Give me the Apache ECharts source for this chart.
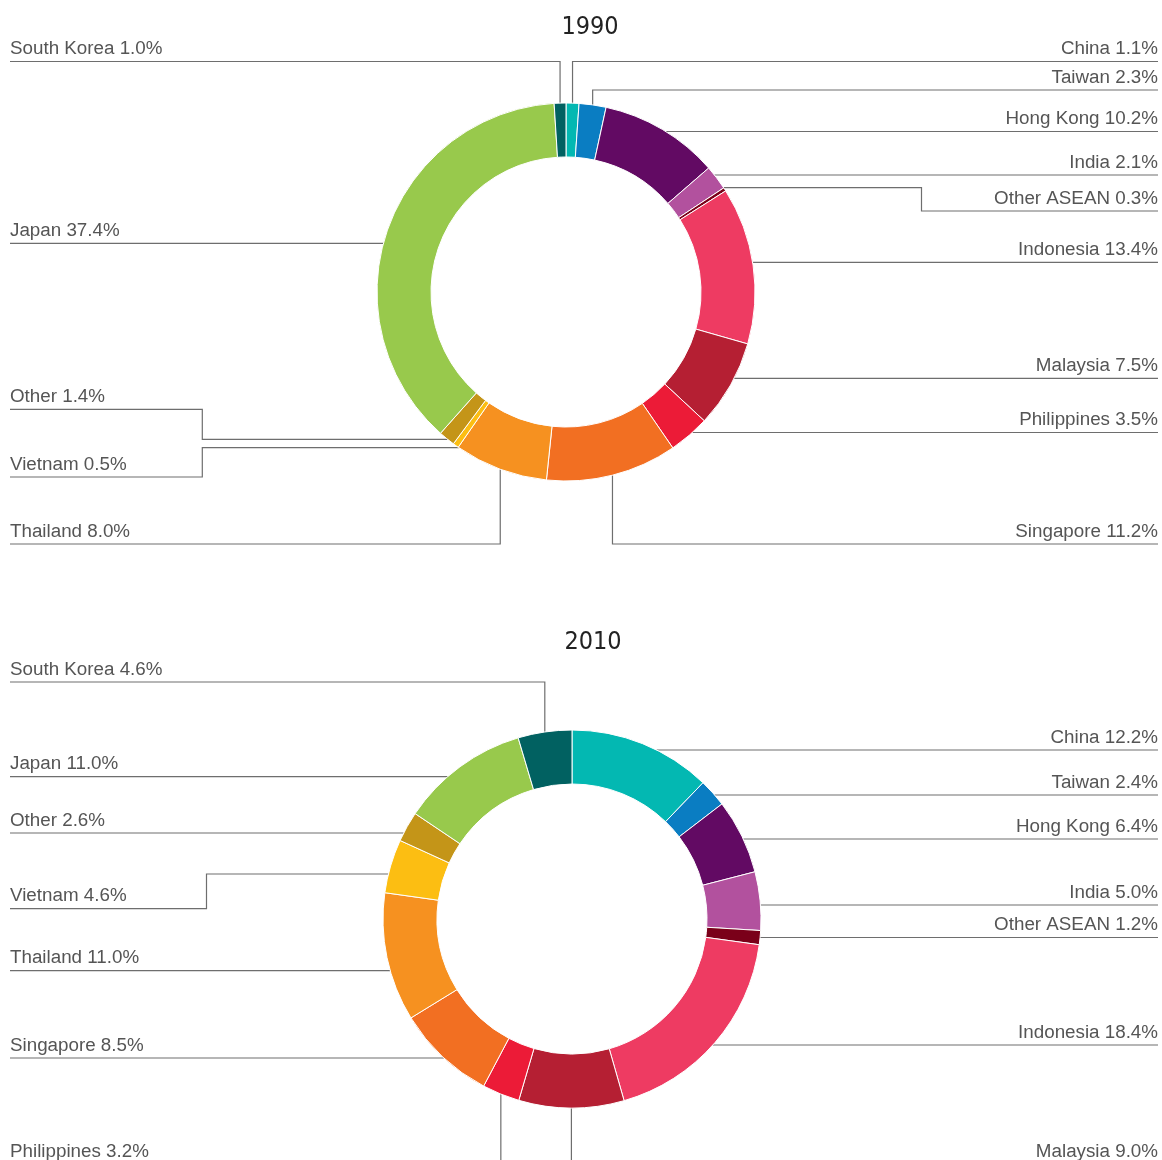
<!DOCTYPE html>
<html>
<head>
<meta charset="utf-8">
<script src="https://cdn.jsdelivr.net/npm/echarts@6/dist/echarts.min.js"></script>
<style>
  html, body { margin: 0; padding: 0; background: #fff; }
  #chart { width: 1162px; height: 1160px; }
</style>
</head>
<body>
<div id="chart"></div>
<script>
// ---- Data ----
const categories = ['China', 'Taiwan', 'Hong Kong', 'India', 'Other ASEAN', 'Indonesia', 'Malaysia',
  'Philippines', 'Singapore', 'Thailand', 'Vietnam', 'Other', 'Japan', 'South Korea'];
const values1990 = [1.1, 2.3, 10.2, 2.1, 0.3, 13.4, 7.5, 3.5, 11.2, 8.0, 0.5, 1.4, 37.4, 1.0];
const values2010 = [12.2, 2.4, 6.4, 5.0, 1.2, 18.4, 9.0, 3.2, 8.5, 11.0, 4.6, 2.6, 11.0, 4.6];
const years = ['1990', '2010'];

// ---- Styles ----
const colors = ['#03b8b2', '#0a7dc2', '#620a63', '#b2519e', '#7a0019', '#ee3b62', '#b51f33',
  '#ec1b37', '#f26f22', '#f69120', '#fcbe12', '#c49518', '#98c94c', '#016161'];

// ---- Layout (label leader routing) ----
// type h: horizontal at y; v: vertical from slice mid to y, then horizontal; e: horizontal at y0 to elbow x, vertical to y
const routes1990 = [
  {t: 'v', s: 'R', y: 61.5}, {t: 'v', s: 'R', y: 90}, {t: 'h', s: 'R', y: 131.5}, {t: 'h', s: 'R', y: 175},
  {t: 'e', s: 'R', y0: 187.7, x: 921.5, y: 211}, {t: 'h', s: 'R', y: 262.3}, {t: 'h', s: 'R', y: 378.3},
  {t: 'h', s: 'R', y: 432.5}, {t: 'v', s: 'R', y: 544}, {t: 'v', s: 'L', y: 544},
  {t: 'e', s: 'L', y0: 447.7, x: 202.3, y: 477}, {t: 'e', s: 'L', y0: 439.3, x: 202.3, y: 409.3},
  {t: 'h', s: 'L', y: 243.3}, {t: 'v', s: 'L', y: 61.5}
];
const routes2010 = [
  {t: 'h', s: 'R', y: 750}, {t: 'h', s: 'R', y: 795}, {t: 'h', s: 'R', y: 839}, {t: 'h', s: 'R', y: 905},
  {t: 'h', s: 'R', y: 937.5}, {t: 'h', s: 'R', y: 1045}, {t: 'v', s: 'R', y: 1164}, {t: 'v', s: 'L', y: 1164},
  {t: 'h', s: 'L', y: 1058}, {t: 'h', s: 'L', y: 970.7}, {t: 'e', s: 'L', y0: 874, x: 206.5, y: 908.7},
  {t: 'h', s: 'L', y: 833}, {t: 'h', s: 'L', y: 776.7}, {t: 'v', s: 'L', y: 682}
];
const pies = [
  {center: [566, 292], inner: 135, outer: 189, routes: routes1990, values: values1990},
  {center: [572, 919], inner: 135, outer: 189, routes: routes2010, values: values2010}
];
const EDGE_L = 10, EDGE_R = 1158;

const chart = echarts.init(document.getElementById('chart'), null, {renderer: 'canvas'});

function makeLayout(p) {
  return function (params) {
    const r = p.routes[params.dataIndex];
    const [cx, cy] = p.center;
    const R = p.outer;
    const sign = r.s === 'R' ? 1 : -1;
    const edgeX = r.s === 'R' ? EDGE_R : EDGE_L;
    const circX = (yy) => cx + sign * Math.sqrt(Math.max(0, R * R - (yy - cy) * (yy - cy)));
    let pts;
    if (r.t === 'h') {
      pts = [[circX(r.y), r.y], [edgeX, r.y]];
    } else if (r.t === 'v') {
      const a = params.labelLinePoints ? params.labelLinePoints[0] : [cx, cy];
      pts = [[a[0], a[1]], [a[0], r.y], [edgeX, r.y]];
    } else {
      pts = [[circX(r.y0), r.y0], [r.x, r.y0], [r.x, r.y], [edgeX, r.y]];
    }
    return {
      x: edgeX,
      y: r.y - 2.5,
      align: r.s === 'R' ? 'right' : 'left',
      verticalAlign: 'bottom',
      labelLinePoints: pts
    };
  };
}

const series = pies.map((p, i) => ({
  type: 'pie',
  center: p.center,
  radius: [p.inner, p.outer],
  startAngle: 90,
  clockwise: true,
  avoidLabelOverlap: false,
  silent: true,
  animation: false,
  itemStyle: {borderColor: '#ffffff', borderWidth: 1},
  label: {
    show: true,
    position: 'outside',
    color: '#555555',
    fontFamily: "'Liberation Sans', Arial, sans-serif",
    fontSize: 18.8,
    lineHeight: 20,
    formatter: (d) => d.name + ' ' + d.value.toFixed(1) + '%'
  },
  labelLine: {show: true, lineStyle: {color: '#6e6e6e', width: 1.2}},
  labelLayout: makeLayout(p),
  data: categories.map((c, k) => ({name: c, value: p.values[k], itemStyle: {color: colors[k]}}))
}));

const titleStyle = {fontFamily: "'Liberation Sans Narrow', 'DejaVu Sans Condensed', sans-serif", fontWeight: 'normal', fontSize: 25, color: '#222'};
chart.setOption({
  backgroundColor: '#ffffff',
  animation: false,
  title: [
    {text: years[0], left: 585, top: 10, textAlign: 'center', textStyle: titleStyle},
    {text: years[1], left: 588, top: 625, textAlign: 'center', textStyle: titleStyle}
  ],
  series: series
});
</script>
</body>
</html>
